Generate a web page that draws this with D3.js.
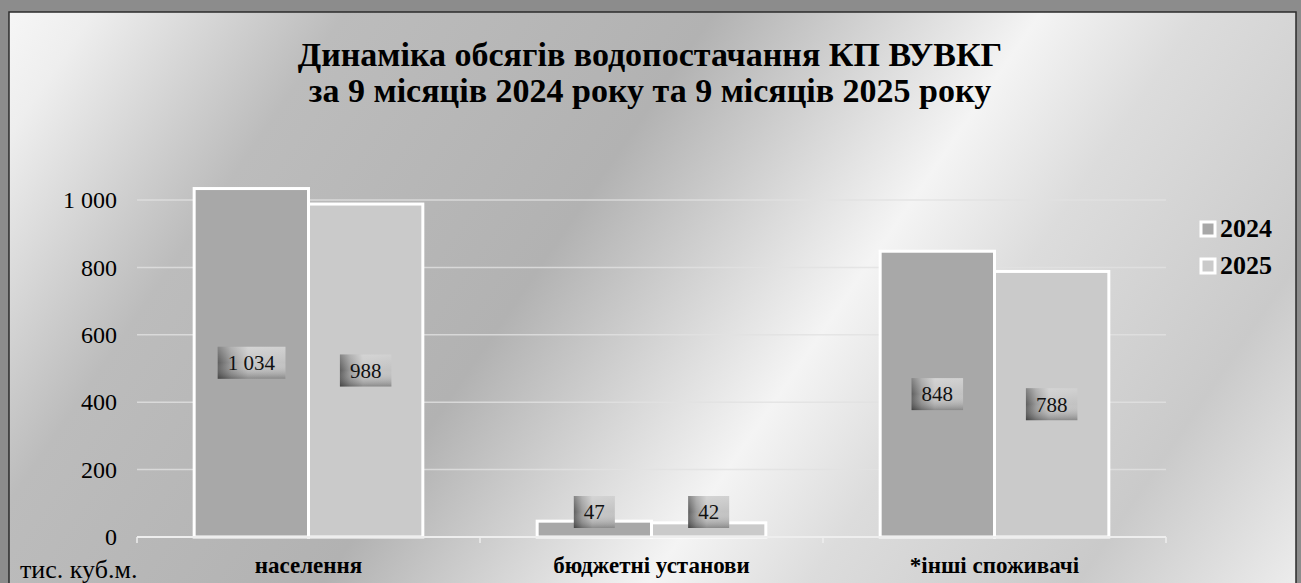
<!DOCTYPE html>
<html lang="uk">
<head>
<meta charset="utf-8">
<style>
body {
  margin: 0;
  background: #8c8c8c;
  font-family: 'Liberation Serif', 'Times New Roman', serif;
}
svg text { fill: #000; }
.grid line { stroke: #e2e2e2; stroke-width: 1.5; opacity: 0.8; }
.bar { stroke: #fff; stroke-width: 3; }
.lbl { font-size: 21px; fill: #111; }
.ytick { font-size: 24px; }
.unit { font-size: 26px; }
.cat { font-size: 23px; font-weight: bold; }
.title { font-size: 34px; font-weight: bold; }
.legend { font-size: 26px; font-weight: bold; }
</style>
<title>Динаміка обсягів водопостачання</title>
<script src="https://cdn.jsdelivr.net/npm/d3@7"></script>
</head>
<body>
<div id="chart"></div>
<script>

var categories = ["населення", "бюджетні установи", "*інші споживачі"];
var years = ["2024", "2025"];
var values2024 = [1034, 47, 848];
var values2025 = [988, 42, 788];
var yTicks = [0, 200, 400, 600, 800, 1000];
var yUnit = "тис. куб.м.";
var titleLines = ["Динаміка обсягів водопостачання КП ВУВКГ",
                  "за 9 місяців 2024 року та 9 місяців 2025 року"];
var colors = {"2024": "#a8a8a8", "2025": "#cacaca"};

var W = 1301, H = 583;
var plotL = 137, plotR = 1166, plotT = 200, plotB = 537;

var fmt = d3.formatLocale({decimal: ",", thousands: " ", grouping: [3], currency: ["", ""]}).format(",d");

var series = years.map(function(yr, i){
	return {year: yr, values: i == 0 ? values2024 : values2025};
});

var svg = d3.select("#chart").append("svg")
	.attr("width", W)
	.attr("height", H);

var defs = svg.append("defs");

// background of the chart area: diagonal light streak
var bg = defs.append("linearGradient")
	.attr("id", "bg")
	.attr("gradientUnits", "userSpaceOnUse")
	.attr("x1", 10).attr("y1", 12)
	.attr("x2", 10 + 1383 * 0.8246).attr("y2", 12 + 1383 * 0.5658);
[[0, "#f6f6f6"], [0.05, "#eeeeee"], [0.2, "#bcbcbc"], [0.42, "#b2b2b2"],
 [0.615, "#f4f4f4"], [0.71, "#dcdcdc"], [0.87, "#cacaca"], [1, "#ececec"]]
	.forEach(function(s){
		bg.append("stop").attr("offset", s[0]).attr("stop-color", s[1]);
	});

// data label box shading
var lb = defs.append("linearGradient").attr("id", "lblH");
[[0, "#5e5e5e"], [0.2, "#9a9a9a"], [0.45, "#c6c6c6"], [1, "#c2c2c2"]]
	.forEach(function(s){
		lb.append("stop").attr("offset", s[0]).attr("stop-color", s[1]);
	});
var lv = defs.append("linearGradient").attr("id", "lblV")
	.attr("x1", 0).attr("y1", 0).attr("x2", 0).attr("y2", 1);
[[0, "#ffffff", 0.25], [0.5, "#ffffff", 0], [1, "#000000", 0.3]]
	.forEach(function(s){
		lv.append("stop").attr("offset", s[0]).attr("stop-color", s[1]).attr("stop-opacity", s[2]);
	});

svg.append("rect")
	.attr("x", 9).attr("y", 12)
	.attr("width", 1287).attr("height", 600)
	.attr("fill", "url(#bg)")
	.attr("stroke", "#2b2b2b")
	.attr("stroke-width", 1.5);

// title
svg.append("text")
	.attr("class", "title")
	.attr("text-anchor", "middle")
	.attr("x", 650)
	.selectAll("tspan")
	.data(titleLines)
	.enter()
	.append("tspan")
	.attr("x", 650)
	.attr("y", function(d, i){ return 66 + i * 36; })
	.text(function(d){ return d; });

var x0 = d3.scaleBand()
	.domain(categories)
	.range([plotL, plotR]);

var x1 = d3.scaleBand()
	.domain(years)
	.range([x0.bandwidth() / 6, x0.bandwidth() * 5 / 6]);

var y = d3.scaleLinear()
	.domain([0, 1000])
	.range([plotB, plotT]);

// gridlines
svg.append("g")
	.attr("class", "grid")
	.selectAll("line")
	.data(yTicks.slice(1))
	.enter()
	.append("line")
	.attr("x1", plotL).attr("x2", plotR)
	.attr("y1", function(d){ return y(d); })
	.attr("y2", function(d){ return y(d); });

// y axis labels
var yAxis = svg.append("g")
	.attr("transform", "translate(" + (plotL - 20) + ",0)")
	.call(d3.axisLeft(y).tickValues(yTicks).tickFormat(fmt).tickSize(0).tickPadding(0));
yAxis.select(".domain").remove();
yAxis.attr("font-family", null).attr("font-size", null);
yAxis.selectAll("text")
	.attr("class", "ytick")
	.attr("fill", "#000");

// bars
var groups = svg.append("g")
	.selectAll("g")
	.data(series)
	.enter()
	.append("g");

function rows(s){
	return s.values.map(function(v, i){ return {year: s.year, cat: categories[i], v: v}; });
}

groups.selectAll("rect")
	.data(rows)
	.enter()
	.append("rect")
	.attr("class", "bar")
	.attr("x", function(d){ return x0(d.cat) + x1(d.year); })
	.attr("width", x1.bandwidth())
	.attr("y", function(d){ return y(d.v); })
	.attr("height", function(d){ return plotB - y(d.v); })
	.attr("fill", function(d){ return colors[d.year]; });

// x axis line + ticks at category edges
var xAxis = svg.append("g")
	.attr("transform", "translate(0," + plotB + ")");
xAxis.append("line")
	.attr("x1", plotL).attr("x2", plotR)
	.attr("stroke", "#eeeeee").attr("stroke-width", 2);
xAxis.selectAll(".tk")
	.data(categories.concat([null]))
	.enter()
	.append("line")
	.attr("x1", function(d){ return d ? x0(d) : plotR; })
	.attr("x2", function(d){ return d ? x0(d) : plotR; })
	.attr("y1", 0).attr("y2", 6)
	.attr("stroke", "#eeeeee").attr("stroke-width", 1.5);

xAxis.selectAll(".cat")
	.data(categories)
	.enter()
	.append("text")
	.attr("class", "cat")
	.attr("text-anchor", "middle")
	.attr("x", function(d){ return x0(d) + x0.bandwidth() / 2; })
	.attr("y", 36)
	.text(function(d){ return d; });

svg.append("text")
	.attr("class", "unit")
	.attr("x", 20)
	.attr("y", 578)
	.text(yUnit);

// data labels
var labels = groups.selectAll(".lblg")
	.data(rows)
	.enter()
	.append("g")
	.attr("class", "lblg")
	.attr("transform", function(d){
		var cx = x0(d.cat) + x1(d.year) + x1.bandwidth() / 2;
		var cy = Math.min((y(d.v) + plotB) / 2, plotB - 25);
		return "translate(" + cx + "," + cy + ")";
	});

labels.append("text")
	.attr("class", "lbl")
	.attr("text-anchor", "middle")
	.attr("dy", "0.35em")
	.text(function(d){ return fmt(d.v); })
	.each(function(){
		var b = this.getBBox();
		var g = d3.select(this.parentNode);
		g.insert("rect", "text")
			.attr("x", b.x - 10).attr("y", -16)
			.attr("width", b.width + 20).attr("height", 32)
			.attr("fill", "url(#lblH)");
		g.insert("rect", "text")
			.attr("x", b.x - 10).attr("y", -16)
			.attr("width", b.width + 20).attr("height", 32)
			.attr("fill", "url(#lblV)");
	});

// legend
var legend = svg.append("g")
	.selectAll("g")
	.data(years)
	.enter()
	.append("g")
	.attr("transform", function(d, i){ return "translate(1200," + (221 + i * 37) + ")"; });

legend.append("rect")
	.attr("x", 1).attr("y", 1)
	.attr("width", 14).attr("height", 14)
	.attr("fill", function(d){ return colors[d]; })
	.attr("stroke", "#fff").attr("stroke-width", 3);

legend.append("text")
	.attr("class", "legend")
	.attr("x", 20)
	.attr("y", 16)
	.text(function(d){ return d; });

</script>
</body>
</html>
